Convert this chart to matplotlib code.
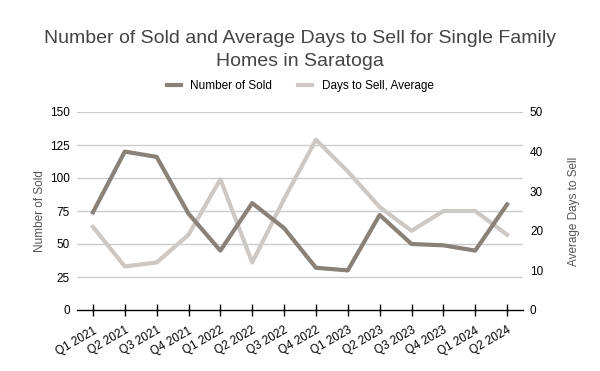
import matplotlib.pyplot as plt

plt.rcParams['font.family'] = ['Liberation Sans', 'DejaVu Sans']

quarters = ["Q1 2021", "Q2 2021", "Q3 2021", "Q4 2021", "Q1 2022", "Q2 2022", "Q3 2022",
            "Q4 2022", "Q1 2023", "Q2 2023", "Q3 2023", "Q4 2023", "Q1 2024", "Q2 2024"]
sold = [74, 120, 116, 73, 45, 81, 62, 32, 30, 72, 50, 49, 45, 80]
days = [21, 11, 12, 19, 33, 12, 28, 43, 35, 26, 20, 25, 25, 19]

dark = "#8a8178"
light = "#cdc8c3"

fig = plt.figure(figsize=(6, 3.71), dpi=100)
ax = fig.add_axes([77 / 600, 1 - 310 / 371, 446 / 600, 198 / 371])
ax2 = ax.twinx()

x = list(range(len(quarters)))
ax2.plot(x, days, color=light, lw=3, label="Days to Sell, Average", zorder=2)
ax.plot(x, sold, color=dark, lw=3, label="Number of Sold", zorder=3)
ax.set_zorder(ax2.get_zorder() + 1)
ax.patch.set_visible(False)

ax.set_xlim(-0.5, 13.5)
ax.set_ylim(0, 150)
ax2.set_ylim(0, 50)
ax.set_yticks([0, 25, 50, 75, 100, 125, 150])
ax2.set_yticks([0, 10, 20, 30, 40, 50])

for s in ["top", "right", "left"]:
    ax.spines[s].set_visible(False)
    ax2.spines[s].set_visible(False)
ax2.spines["bottom"].set_visible(False)
ax.spines["bottom"].set_color("black")
ax.spines["bottom"].set_linewidth(1)

for v in [25, 50, 75, 100, 125, 150]:
    ax.axhline(v, color="#cccccc", lw=1, zorder=0)

ax.set_xticks(x)
ax.set_xticklabels(quarters, rotation=30, ha="right", rotation_mode="anchor", fontsize=8.5)
ax.tick_params(axis="x", direction="inout", length=9, width=1, color="black", pad=6)
ax.tick_params(axis="y", length=0, labelsize=8.5, pad=5)
ax2.tick_params(axis="y", length=0, labelsize=8.5, pad=5)

ax.set_ylabel("Number of Sold", color="#555555", fontsize=8.5, labelpad=3)
ax2.set_ylabel("Average Days to Sell", color="#555555", fontsize=8.5, labelpad=18)

fig.text(0.5, 1 - 50 / 371, "Number of Sold and Average Days to Sell for Single Family\nHomes in Saratoga",
         ha="center", va="center", fontsize=14, color="#444444", linespacing=1.45)

h1, l1 = ax.get_legend_handles_labels()
h2, l2 = ax2.get_legend_handles_labels()
fig.legend(h1 + h2, l1 + l2, loc="center", bbox_to_anchor=(0.5, 1 - 86 / 371), ncol=2,
           frameon=False, fontsize=8.5, handlelength=1.2, columnspacing=2.2, handletextpad=0.8)

fig.savefig("out.png", dpi=100)
